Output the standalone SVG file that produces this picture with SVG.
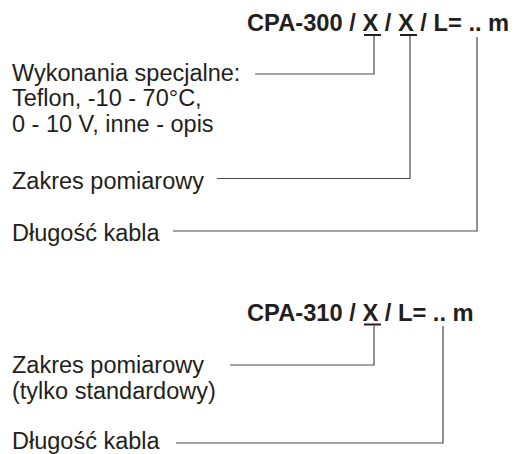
<svg xmlns="http://www.w3.org/2000/svg" width="514" height="454" viewBox="0 0 514 454">
  <style>
    .t { font-family: "Liberation Sans", Arial, sans-serif; font-size: 23.5px; fill: #231f20; }
    .h { font-family: "Liberation Sans", Arial, sans-serif; font-size: 23.7px; font-weight: bold; fill: #231f20; }
    .c { fill: none; stroke: #4a4a4a; stroke-width: 1.2; }
    .u { stroke: #231f20; stroke-width: 2; }
  </style>
  <rect width="514" height="454" fill="#ffffff"/>
  <g id="title1">
    <text class="h" x="247" y="31">CPA-300 / X / X / L= .. m</text>
    <line class="u" x1="364" y1="35" x2="381" y2="35"/>
    <line class="u" x1="400" y1="35" x2="417" y2="35"/>
  </g>
  <g id="wykonania">
    <text class="t" x="12" y="80.5">Wykonania specjalne:</text>
    <text class="t" x="12" y="106">Teflon, -10 - 70°C,</text>
    <text class="t" x="12" y="132">0 - 10 V, inne - opis</text>
  </g>
  <g id="zakres1">
    <text class="t" x="12" y="188.5">Zakres pomiarowy</text>
  </g>
  <g id="dlugosc1">
    <text class="t" x="12" y="241">Długość kabla</text>
  </g>
  <g id="title2">
    <text class="h" x="247" y="320.5">CPA-310 / X / L= .. m</text>
    <line class="u" x1="364" y1="324.5" x2="381" y2="324.5"/>
  </g>
  <g id="zakres2">
    <text class="t" x="12" y="373">Zakres pomiarowy</text>
    <text class="t" x="12" y="399">(tylko standardowy)</text>
  </g>
  <g id="dlugosc2">
    <text class="t" x="12" y="448.5">Długość kabla</text>
  </g>
  <g id="connectors">
    <polyline class="c" points="255,74 374,74 374,36"/>
    <polyline class="c" points="217,178.5 410,178.5 410,36"/>
    <polyline class="c" points="173,231 477,231 477,37"/>
    <polyline class="c" points="230,365 374,365 374,325.5"/>
    <polyline class="c" points="176,443 443,443 443,326"/>
  </g>
</svg>
